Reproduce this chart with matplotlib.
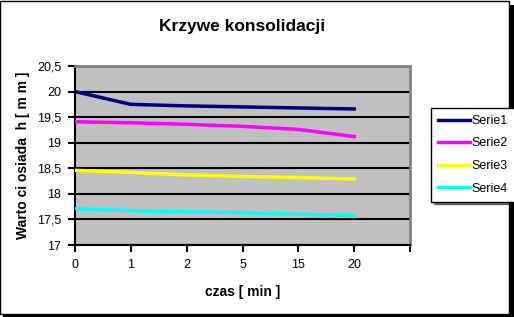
import matplotlib
matplotlib.use('Agg')
import matplotlib.pyplot as plt
from matplotlib.patches import Rectangle
from matplotlib.ticker import FuncFormatter

czas = ['0', '1', '2', '5', '15', '20']
serie1 = [20.0, 19.75, 19.72, 19.70, 19.68, 19.66]
serie2 = [19.41, 19.39, 19.36, 19.32, 19.26, 19.12]
serie3 = [18.46, 18.42, 18.37, 18.34, 18.32, 18.29]
serie4 = [17.71, 17.67, 17.65, 17.63, 17.60, 17.58]
names = ['Serie1', 'Serie2', 'Serie3', 'Serie4']
colors = ['#000080', '#ff00ff', '#ffff00', '#00ffff']

plt.rcParams['font.family'] = ['Liberation Sans', 'DejaVu Sans']

W, H = 514, 317
fig = plt.figure(figsize=(W / 100, H / 100), dpi=100)

# chart frame with a black shadow
fig.patches.append(Rectangle((0, 3 / H), 509 / W, 1 - 3.5 / H, transform=fig.transFigure,
                             fill=False, edgecolor='black', lw=1, zorder=0))
fig.patches.append(Rectangle((3 / W, 0), 511 / W, 3 / H, transform=fig.transFigure,
                             facecolor='black', edgecolor='none', zorder=0))
fig.patches.append(Rectangle((509 / W, 0), 5 / W, 1 - 5 / H, transform=fig.transFigure,
                             facecolor='black', edgecolor='none', zorder=0))

ax = fig.add_axes([75 / W, 1 - 245 / H, 335 / W, 179 / H])
ax.set_facecolor('#c0c0c0')

x = list(range(len(czas)))
for s, n, c in zip([serie1, serie2, serie3, serie4], names, colors):
    ax.plot(x, s, color=c, lw=2.5, label=n, zorder=3)

ax.set_xlim(0, 6)
ax.set_ylim(17, 20.5)
ax.set_xticks(range(7))
ax.set_xticklabels(czas + [''])
ax.set_yticks([17 + 0.5 * i for i in range(8)])
ax.yaxis.set_major_formatter(FuncFormatter(lambda v, p: ('%g' % v).replace('.', ',')))
ax.grid(axis='y', color='black', lw=1.5, zorder=1)
ax.set_axisbelow(True)

for side in ['top', 'right']:
    ax.spines[side].set_color('#808080')
    ax.spines[side].set_linewidth(2)
for side in ['left', 'bottom']:
    ax.spines[side].set_color('black')
    ax.spines[side].set_linewidth(1.5)
ax.tick_params(direction='out', length=5, width=1.5, labelsize=9, pad=5, colors='black')

ax.set_title('Krzywe konsolidacji', fontsize=12.5, fontweight='bold', pad=25)
ax.set_xlabel('czas [ min ]', fontsize=10, fontweight='bold', labelpad=10)
ax.set_ylabel('Warto ci osiada  h [ m m ]', fontsize=10, fontweight='bold', labelpad=5)

leg = fig.legend(loc='upper left', bbox_to_anchor=(431 / W, 1 - 108 / H), fontsize=9,
                 frameon=True, fancybox=False, shadow={'color': 'black'},
                 edgecolor='black', framealpha=1, handlelength=2.6, handletextpad=0.1,
                 borderpad=0.55, labelspacing=0.85, borderaxespad=0)
leg.get_frame().set_linewidth(1)

fig.savefig('out.png', dpi=100)
